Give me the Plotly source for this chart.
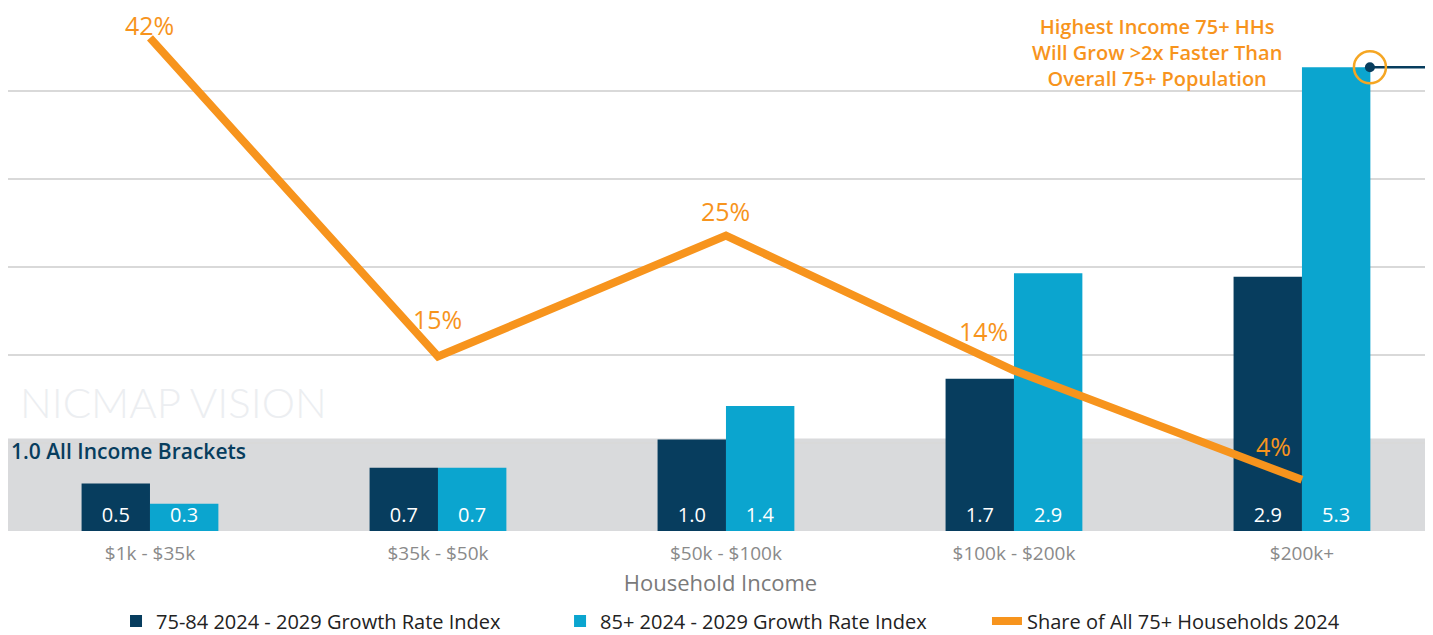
import plotly.graph_objects as go

# Data
categories = ["$1k - $35k", "$35k - $50k", "$50k - $100k", "$100k - $200k", "$200k+"]
growth_75_84 = [0.54, 0.72, 1.04, 1.73, 2.89]
growth_85_plus = [0.31, 0.72, 1.42, 2.93, 5.27]
share_75_plus = [42.4, 15.0, 25.4, 13.8, 4.4]
all_brackets_index = 1.0

NAVY = "#073d5e"
BLUE = "#0ba5cf"
ORANGE = "#f7941d"
FONT = "Open Sans"

xs = list(range(len(categories)))

fig = go.Figure()

# separate legends so each entry sits where the original has it
bar_series = [(growth_75_84, "75-84 2024 - 2029 Growth Rate Index", NAVY, "legend"),
              (growth_85_plus, "85+ 2024 - 2029 Growth Rate Index", BLUE, "legend2")]
for vals, name, color, leg in bar_series:
    fig.add_trace(go.Bar(
        x=xs, y=vals, name=name, marker_color=color, marker_line_width=0, legend=leg,
        texttemplate="%{y:.1f}", textposition="inside",
        insidetextanchor="start", textangle=0,
        textfont=dict(color="white", size=20, family=FONT, weight=500),
    ))

fig.add_trace(go.Scatter(
    x=xs, y=share_75_plus, name="Share of All 75+ Households 2024", legend="legend3",
    mode="lines", line=dict(color=ORANGE, width=8), yaxis="y2",
))

# line labels, nudged like the original
shifts = [(0, 13), (0, 38), (0, 25), (-30, 40), (-28, 34)]
for x, v, (dx, dy) in zip(xs, share_75_plus, shifts):
    fig.add_annotation(x=x, y=v, yref="y2", text=f"{round(v)}%", showarrow=False,
                       xshift=dx, yshift=dy,
                       font=dict(color=ORANGE, size=25, family=FONT, weight=500))

# grey "all brackets" band
fig.add_shape(type="rect", xref="paper", yref="y", x0=-0.01, x1=1.0, y0=0, y1=all_brackets_index + 0.05,
              fillcolor="#d9dadc", line_width=0, layer="below")
fig.add_annotation(xref="paper", yref="y", x=0.001, y=all_brackets_index - 0.09, xanchor="left",
                   text="1.0 All Income Brackets", showarrow=False,
                   font=dict(color=NAVY, size=21, family=FONT, weight=600))

# watermark
fig.add_annotation(xref="paper", yref="paper", x=0.007, y=0.246, xanchor="left", yanchor="middle",
                   text="NICMAP VISION", showarrow=False,
                   font=dict(color="#eceef1", size=42, family="Lato", weight=300))

# callout on the top bar
top_x = xs[-1] + 0.236
top_y = growth_85_plus[-1]
fig.add_shape(type="line", xref="x", yref="y", x0=top_x, x1=4.5, y0=top_y, y1=top_y,
              line=dict(color=NAVY, width=2.5))
fig.add_shape(type="circle", xref="x", yref="y", xsizemode="pixel", ysizemode="pixel",
              xanchor=top_x, yanchor=top_y, x0=-5, x1=5, y0=-5, y1=5,
              fillcolor=NAVY, line_width=0)
fig.add_shape(type="circle", xref="x", yref="y", xsizemode="pixel", ysizemode="pixel",
              xanchor=top_x, yanchor=top_y, x0=-16, x1=16, y0=-16, y1=16,
              line=dict(color="#f5a623", width=2.5))
fig.add_annotation(xref="x", yref="y", x=3.497, y=5.44, xanchor="center", yanchor="middle",
                   text="Highest Income 75+ HHs<br>Will Grow >2x Faster Than<br>Overall 75+ Population",
                   showarrow=False, align="center",
                   font=dict(color=ORANGE, size=20, family=FONT, weight=600))

leg_font = dict(size=20, color="#222222", family=FONT)
leg_common = dict(orientation="h", xanchor="left", y=-0.172, yanchor="middle", font=leg_font)

fig.update_layout(
    width=1425, height=627,
    margin=dict(l=0, r=0, t=0, b=104, autoexpand=False),
    paper_bgcolor="white", plot_bgcolor="white",
    barmode="group", bargap=0.525, bargroupgap=0,
    uniformtext=dict(minsize=20, mode="show"),
    showlegend=True,
    legend=dict(x=0.0758, **leg_common),
    legend2=dict(x=0.3874, **leg_common),
    legend3=dict(x=0.687, **leg_common),
    xaxis=dict(tickvals=xs, ticktext=categories, range=[-0.493, 4.455],
               tickfont=dict(size=19, color="#8a8a8a", family=FONT),
               ticks="outside", ticklen=5, tickcolor="rgba(0,0,0,0)",
               title=dict(text="Household Income", font=dict(size=22, color="#7a7a7a", family=FONT), standoff=10),
               showgrid=False, zeroline=False, showline=False),
    yaxis=dict(range=[0, 5.943], dtick=1, showticklabels=False, showgrid=True,
               gridcolor="#d9d9d9", gridwidth=2, zeroline=False),
    yaxis2=dict(range=[0, 44.97], overlaying="y", side="right", visible=False, showgrid=False),
)

fig.write_html("out.html")
